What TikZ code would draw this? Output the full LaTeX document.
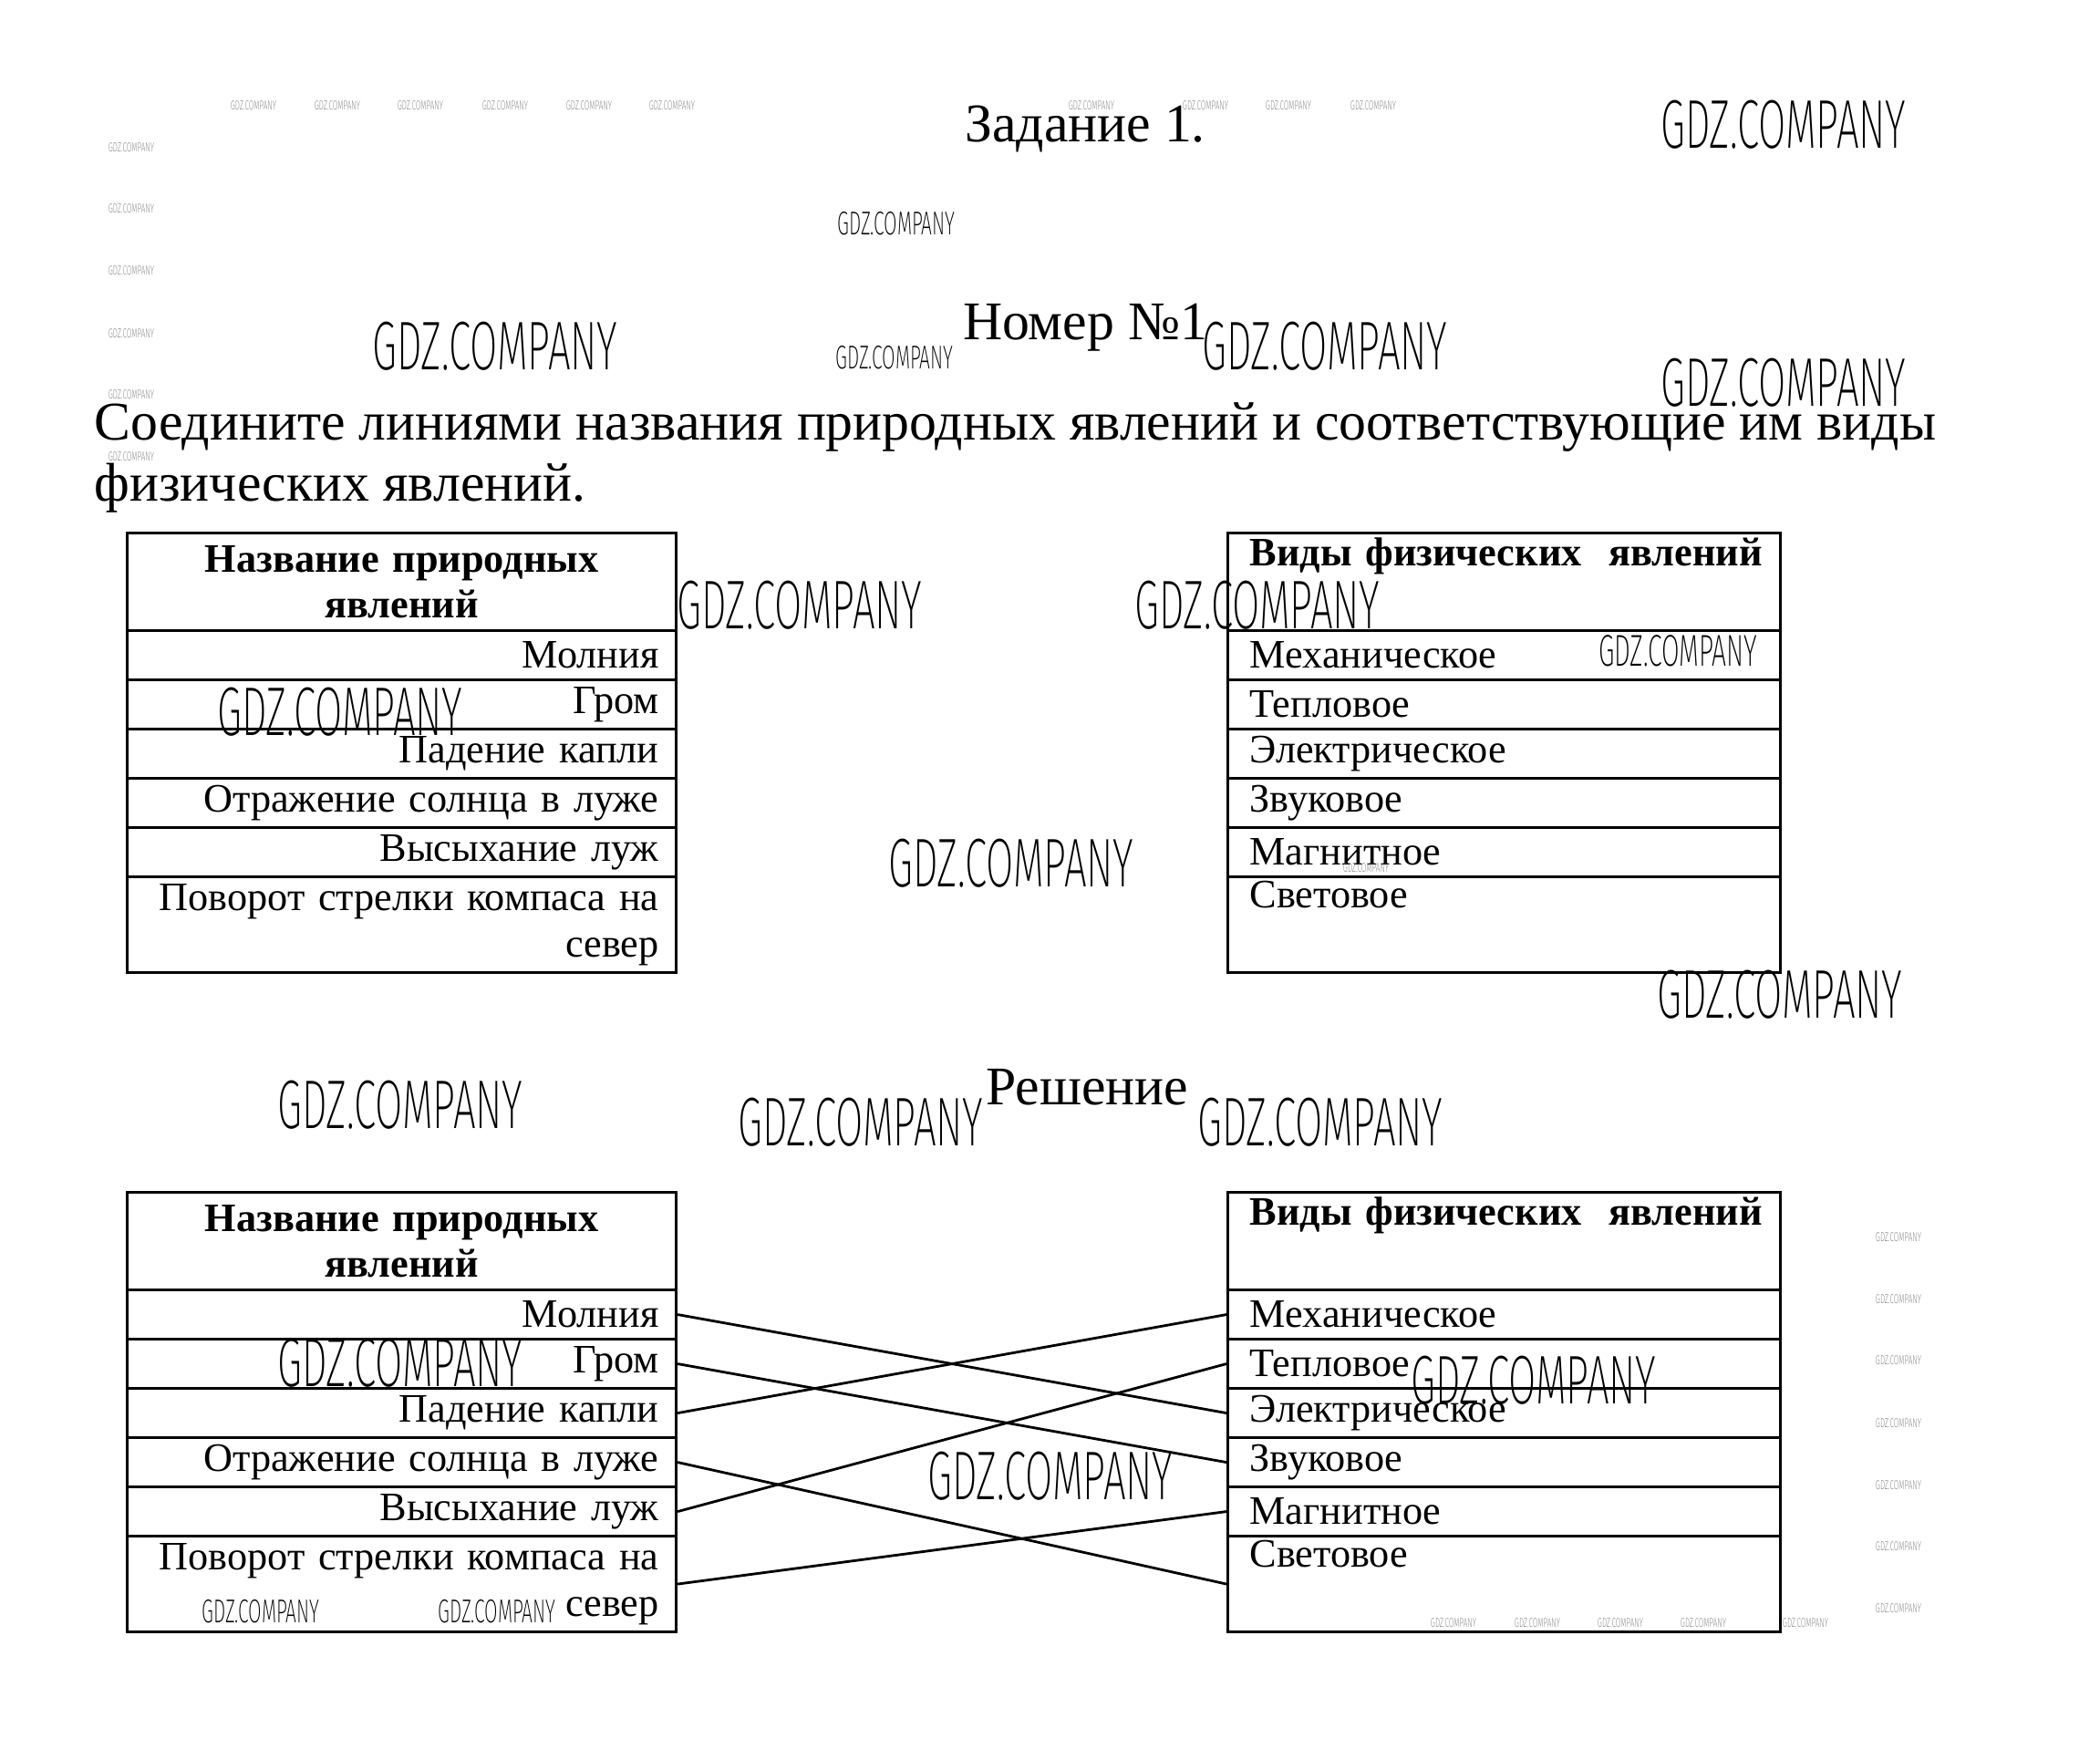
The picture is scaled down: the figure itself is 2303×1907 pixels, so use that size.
\documentclass[tikz,border=0pt]{standalone}
\usepackage{fontspec}
\setmainfont{Liberation Serif}
\newfontfamily\wmfont[FakeStretch=0.58]{Fira Sans ExtraLight}
\usepackage{tikz}
\usetikzlibrary{positioning}

\tikzset{
  cellL/.style={draw, line width=0.9pt, anchor=north west, text width=56.4mm, align=right,
    inner xsep=1.9mm, inner ysep=0pt, font=\fontsize{12.6}{14.4}\selectfont},
  cellR/.style={cellL, text width=55.8mm, inner xsep=2.4mm, align=left},
  head/.style={minimum height=10.7mm, font=\bfseries\fontsize{12.6}{14.4}\selectfont},
  row/.style={minimum height=5.4mm},
  last/.style={minimum height=10.5mm},
  link/.style={line width=0.8pt},
  title/.style={anchor=base, inner sep=0pt, font=\fontsize{17}{20}\selectfont},
  ask/.style={anchor=base west, inner sep=0pt, font=\fontsize{17}{20}\selectfont},
  wm/.style={inner sep=0pt, font=\wmfont\fontsize{21.5}{22}\selectfont},
  wmmid/.style={inner sep=0pt, font=\wmfont\fontsize{10.3}{11}\selectfont},
  wmtiny/.style={inner sep=0pt, text=black!55, font=\wmfont\fontsize{4}{4}\selectfont}
}

\begin{document}
\begin{tikzpicture}[x=0.1mm, y=-0.1mm]
    \useasboundingbox (0,0) rectangle (2303,1907);

    % headings
    \node[title] (task) at (1190,156) {Задание 1.};
    \node[title] (number) at (1190,373) {Номер №1};
    \node[ask] (ask1) at (103,483) {Соедините линиями названия природных явлений и соответствующие им виды};
    \node[ask] (ask2) at (103,550) {физических явлений.};

    % task tables
    \node[cellL, head, align=center] (nameH) at (138,583) {Название природных\\явлений};
    \node[cellL, row] (name1) at (138,690) {Молния};
    \node[cellL, row] (name2) at (138,744) {Гром};
    \node[cellL, row] (name3) at (138,798) {Падение капли};
    \node[cellL, row] (name4) at (138,852) {Отражение солнца в луже};
    \node[cellL, row] (name5) at (138,906) {Высыхание луж};
    \node[cellL, last] (name6) at (138,960) {Поворот стрелки компаса на\\север};

    \node[cellR, head] (kindH) at (1345,583) {\mbox{Виды физических\ \ явлений}\\\strut};
    \node[cellR, row] (kind1) at (1345,690) {Механическое};
    \node[cellR, row] (kind2) at (1345,744) {Тепловое};
    \node[cellR, row] (kind3) at (1345,798) {Электрическое};
    \node[cellR, row] (kind4) at (1345,852) {Звуковое};
    \node[cellR, row] (kind5) at (1345,906) {Магнитное};
    \node[cellR, last] (kind6) at (1345,960) {Световое\\\strut};

    % solution
    \node[title] (answer) at (1192,1212) {Решение};

    \node[cellL, head, align=center] (nameBH) at (138,1306) {Название природных\\явлений};
    \node[cellL, row] (nameB1) at (138,1413) {Молния};
    \node[cellL, row] (nameB2) at (138,1467) {Гром};
    \node[cellL, row] (nameB3) at (138,1521) {Падение капли};
    \node[cellL, row] (nameB4) at (138,1575) {Отражение солнца в луже};
    \node[cellL, row] (nameB5) at (138,1629) {Высыхание луж};
    \node[cellL, last] (nameB6) at (138,1683) {Поворот стрелки компаса на\\север};

    \node[cellR, head] (kindBH) at (1345,1306) {\mbox{Виды физических\ \ явлений}\\\strut};
    \node[cellR, row] (kindB1) at (1345,1413) {Механическое};
    \node[cellR, row] (kindB2) at (1345,1467) {Тепловое};
    \node[cellR, row] (kindB3) at (1345,1521) {Электрическое};
    \node[cellR, row] (kindB4) at (1345,1575) {Звуковое};
    \node[cellR, row] (kindB5) at (1345,1629) {Магнитное};
    \node[cellR, last] (kindB6) at (1345,1683) {Световое\\\strut};

    \draw[link] (nameB1.east) -- (kindB3.west);
    \draw[link] (nameB2.east) -- (kindB4.west);
    \draw[link] (nameB3.east) -- (kindB1.west);
    \draw[link] (nameB4.east) -- (kindB6.west);
    \draw[link] (nameB5.east) -- (kindB2.west);
    \draw[link] (nameB6.east) -- (kindB5.west);

    % watermarks
    \node[wm] (wm1) at (1956,137) {GDZ.COMPANY};
    \node[wmmid] (wm2) at (983,245) {GDZ.COMPANY};
    \node[wm] (wm3) at (543,380) {GDZ.COMPANY};
    \node[wmmid] (wm4) at (981,392) {GDZ.COMPANY};
    \node[wm] (wm5) at (1453,380) {GDZ.COMPANY};
    \node[wm] (wm6) at (1956,420) {GDZ.COMPANY};
    \node[wm] (wm7) at (877,664) {GDZ.COMPANY};
    \node[wm] (wm8) at (1379,664) {GDZ.COMPANY};
    \node[inner sep=0pt, font=\wmfont\fontsize{13.9}{14}\selectfont] (wm9) at (1840,714) {GDZ.COMPANY};
    \node[wm] (wm10) at (373,781) {GDZ.COMPANY};
    \node[wm] (wm11) at (1109,947) {GDZ.COMPANY};
    \node[wm] (wm12) at (1952,1091) {GDZ.COMPANY};
    \node[wm] (wm13) at (439,1212) {GDZ.COMPANY};
    \node[wm] (wm14) at (944,1231) {GDZ.COMPANY};
    \node[wm] (wm15) at (1448,1231) {GDZ.COMPANY};
    \node[wm] (wm16) at (439,1495) {GDZ.COMPANY};
    \node[wm] (wm17) at (1682,1514) {GDZ.COMPANY};
    \node[wm] (wm18) at (1152,1619) {GDZ.COMPANY};
    \node[wmmid] (wm19) at (286,1767) {GDZ.COMPANY};
    \node[wmmid] (wm20) at (545,1767) {GDZ.COMPANY};
    \foreach \x [count=\i] in {278,370,461,554,646,737,1197,1322,1413,1506}
      \node[wmtiny] (wmtop\i) at (\x,116) {GDZ.COMPANY};
    \foreach \y [count=\i] in {162,229,297,366,433,501}
      \node[wmtiny] (wmleft\i) at (144,\y) {GDZ.COMPANY};
    \foreach \y [count=\i] in {1357,1425,1492,1561,1629,1696,1764}
      \node[wmtiny] (wmright\i) at (2082,\y) {GDZ.COMPANY};
    \foreach \x [count=\i] in {1594,1686,1777,1868,1980}
      \node[wmtiny] (wmbottom\i) at (\x,1780) {GDZ.COMPANY};
    \node[wmtiny] (wmmag) at (1498,952) {GDZ.COMPANY};
\end{tikzpicture}
\end{document}
